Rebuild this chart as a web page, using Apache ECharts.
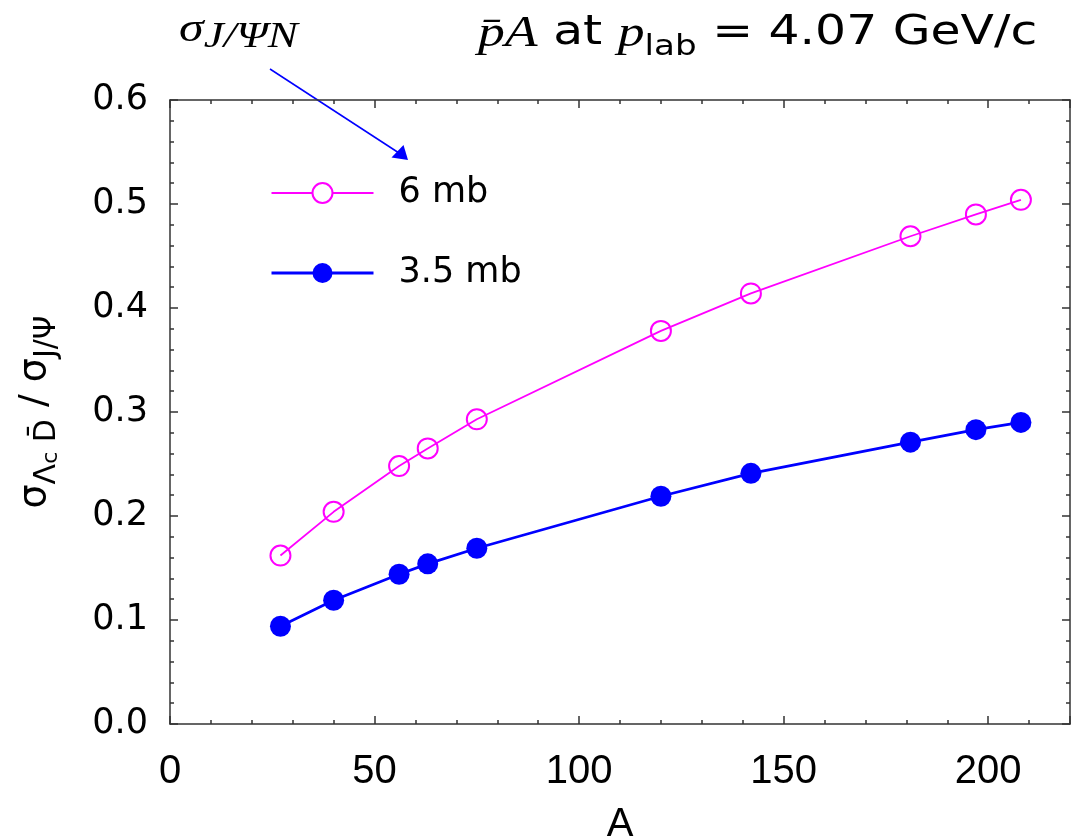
<!DOCTYPE html>
<html>
<head>
<meta charset="utf-8">
<script src="https://cdn.jsdelivr.net/npm/echarts@6/dist/echarts.min.js"></script>
<style>
html,body{margin:0;padding:0;background:#fff;}
#main{width:1071px;height:840px;}
</style>
</head>
<body>
<div id="main"></div>
<script>
// ---- data ----
const massNumbers = [27, 40, 56, 63, 75, 120, 142, 181, 197, 208];
const ratio6mb   = [0.162, 0.204, 0.248, 0.265, 0.293, 0.378, 0.414, 0.469, 0.490, 0.504];
const ratio35mb  = [0.094, 0.119, 0.144, 0.154, 0.169, 0.219, 0.241, 0.271, 0.283, 0.290];
const seriesNames = ['6 mb', '3.5 mb'];
const xTicks = [0, 50, 100, 150, 200];
const yTicks = [0.0, 0.1, 0.2, 0.3, 0.4, 0.5, 0.6];

const pts6 = massNumbers.map((a, i) => [a, ratio6mb[i]]);
const pts35 = massNumbers.map((a, i) => [a, ratio35mb[i]]);

const FONT = '"Liberation Sans", Arial, Helvetica, sans-serif';
const WIDE = '"DejaVu Sans", Verdana, sans-serif';
const SERIF = '"Liberation Serif", "DejaVu Serif", serif';
const axisCol = '#333';

const chart = echarts.init(document.getElementById('main'), null, {renderer: 'canvas'});

const lineCommon = {show: true, onZero: false, lineStyle: {color: axisCol, width: 1.5}};
const tickCommon = {show: true, inside: true, length: 8, lineStyle: {color: axisCol, width: 1.5}};
const minorCommon = {show: true, splitNumber: 5, length: 4, lineStyle: {color: axisCol, width: 1.5}};

const commonX = {
  type: 'value', min: 0, max: 220, interval: 50,
  axisLine: lineCommon, axisTick: tickCommon, minorTick: minorCommon,
  splitLine: {show: false}, minorSplitLine: {show: false}
};
const commonY = {
  type: 'value', min: 0, max: 0.6, interval: 0.1,
  axisLine: lineCommon, axisTick: tickCommon, minorTick: minorCommon,
  splitLine: {show: false}, minorSplitLine: {show: false}
};

const option = {
  backgroundColor: '#fff',
  animation: false,
  grid: {left: 170, right: 1, top: 100, bottom: 116, containLabel: false, outerBoundsMode: 'none'},
  xAxis: [
    Object.assign({}, commonX, {
      position: 'bottom',
      name: 'A', nameLocation: 'middle', nameGap: 81,
      nameTextStyle: {fontFamily: FONT, fontSize: 40, color: '#000'},
      axisLabel: {show: true, margin: 28, fontFamily: FONT, fontSize: 40, color: '#000',
        showMaxLabel: false,
        formatter: v => xTicks.indexOf(v) >= 0 ? String(v) : ''}
    }),
    Object.assign({}, commonX, {position: 'top', axisLabel: {show: false}})
  ],
  yAxis: [
    Object.assign({}, commonY, {
      position: 'left',
      name: '{m|σ}{s|Λ}{ss|c}{s| D\u0304}{m| / σ}{s|J/Ψ}',
      nameLocation: 'middle', nameGap: 108,
      nameTextStyle: {
        fontFamily: WIDE, color: '#000',
        rich: {
          m: {fontFamily: WIDE, fontSize: 38, lineHeight: 54, verticalAlign: 'middle', color: '#000'},
          s: {fontFamily: WIDE, fontSize: 30, lineHeight: 30, verticalAlign: 'bottom', color: '#000'},
          ss: {fontFamily: WIDE, fontSize: 22, lineHeight: 22, verticalAlign: 'bottom', color: '#000'}
        }
      },
      axisLabel: {show: true, margin: 22, fontFamily: WIDE, fontSize: 35, color: '#000',
        formatter: v => v.toFixed(1)}
    }),
    Object.assign({}, commonY, {position: 'right', axisLabel: {show: false}})
  ],
  legend: {
    show: true, orient: 'vertical', left: 270, top: 173, padding: 0,
    itemWidth: 102, itemHeight: 25, itemGap: 40,
    textStyle: {fontFamily: WIDE, fontSize: 35, color: '#000', lineHeight: 40, padding: [0, 0, 0, 20]},
    data: [
      {name: seriesNames[0], itemStyle: {color: '#fff', borderColor: '#ff00ff', borderWidth: 2},
        lineStyle: {color: '#ff00ff', width: 2}},
      {name: seriesNames[1], lineStyle: {color: '#0000ff', width: 3}}
    ]
  },
  series: [
    {
      name: seriesNames[0], type: 'line', xAxisIndex: 0, yAxisIndex: 0,
      data: pts6, symbol: 'circle', symbolSize: 20,
      lineStyle: {color: '#ff00ff', width: 1.8},
      itemStyle: {color: 'rgba(255,255,255,0)', borderColor: '#ff00ff', borderWidth: 2},
      z: 3
    },
    {
      name: seriesNames[1], type: 'line', xAxisIndex: 0, yAxisIndex: 0,
      data: pts35, symbol: 'circle', symbolSize: 21,
      lineStyle: {color: '#0000ff', width: 2.8},
      itemStyle: {color: '#0000ff', borderWidth: 0},
      z: 4
    }
  ],
  graphic: [
    {
      type: 'text', x: 179, y: 4, scaleX: 1.25, scaleY: 1,
      style: {
        text: '{a|σ}{b|J/ΨN}',
        rich: {
          a: {fontFamily: SERIF, fontStyle: 'italic', fontSize: 40, lineHeight: 52, verticalAlign: 'middle', fill: '#000'},
          b: {fontFamily: SERIF, fontStyle: 'italic', fontSize: 36, lineHeight: 36, verticalAlign: 'bottom', fill: '#000'}
        }
      }
    },
    {
      type: 'text', x: 478, y: 6, scaleX: 1.22, scaleY: 1,
      style: {
        text: '{i|p\u0304A}{n| at }{i|p}{s|lab}{n| = 4.07 GeV/c}',
        rich: {
          i: {fontFamily: SERIF, fontStyle: 'italic', fontSize: 44, lineHeight: 56, verticalAlign: 'middle', fill: '#000'},
          n: {fontFamily: WIDE, fontSize: 40, lineHeight: 56, verticalAlign: 'middle', fill: '#000'},
          s: {fontFamily: WIDE, fontSize: 28, lineHeight: 28, verticalAlign: 'bottom', fill: '#000'}
        }
      }
    },
    {
      type: 'line', shape: {x1: 270, y1: 69, x2: 399, y2: 153},
      style: {stroke: '#0000ff', lineWidth: 1.5}
    },
    {
      type: 'polygon', shape: {points: [[408, 160], [391.5, 157.5], [403.5, 145]]},
      style: {fill: '#0000ff'}
    }
  ]
};
chart.setOption(option);
</script>
</body>
</html>
